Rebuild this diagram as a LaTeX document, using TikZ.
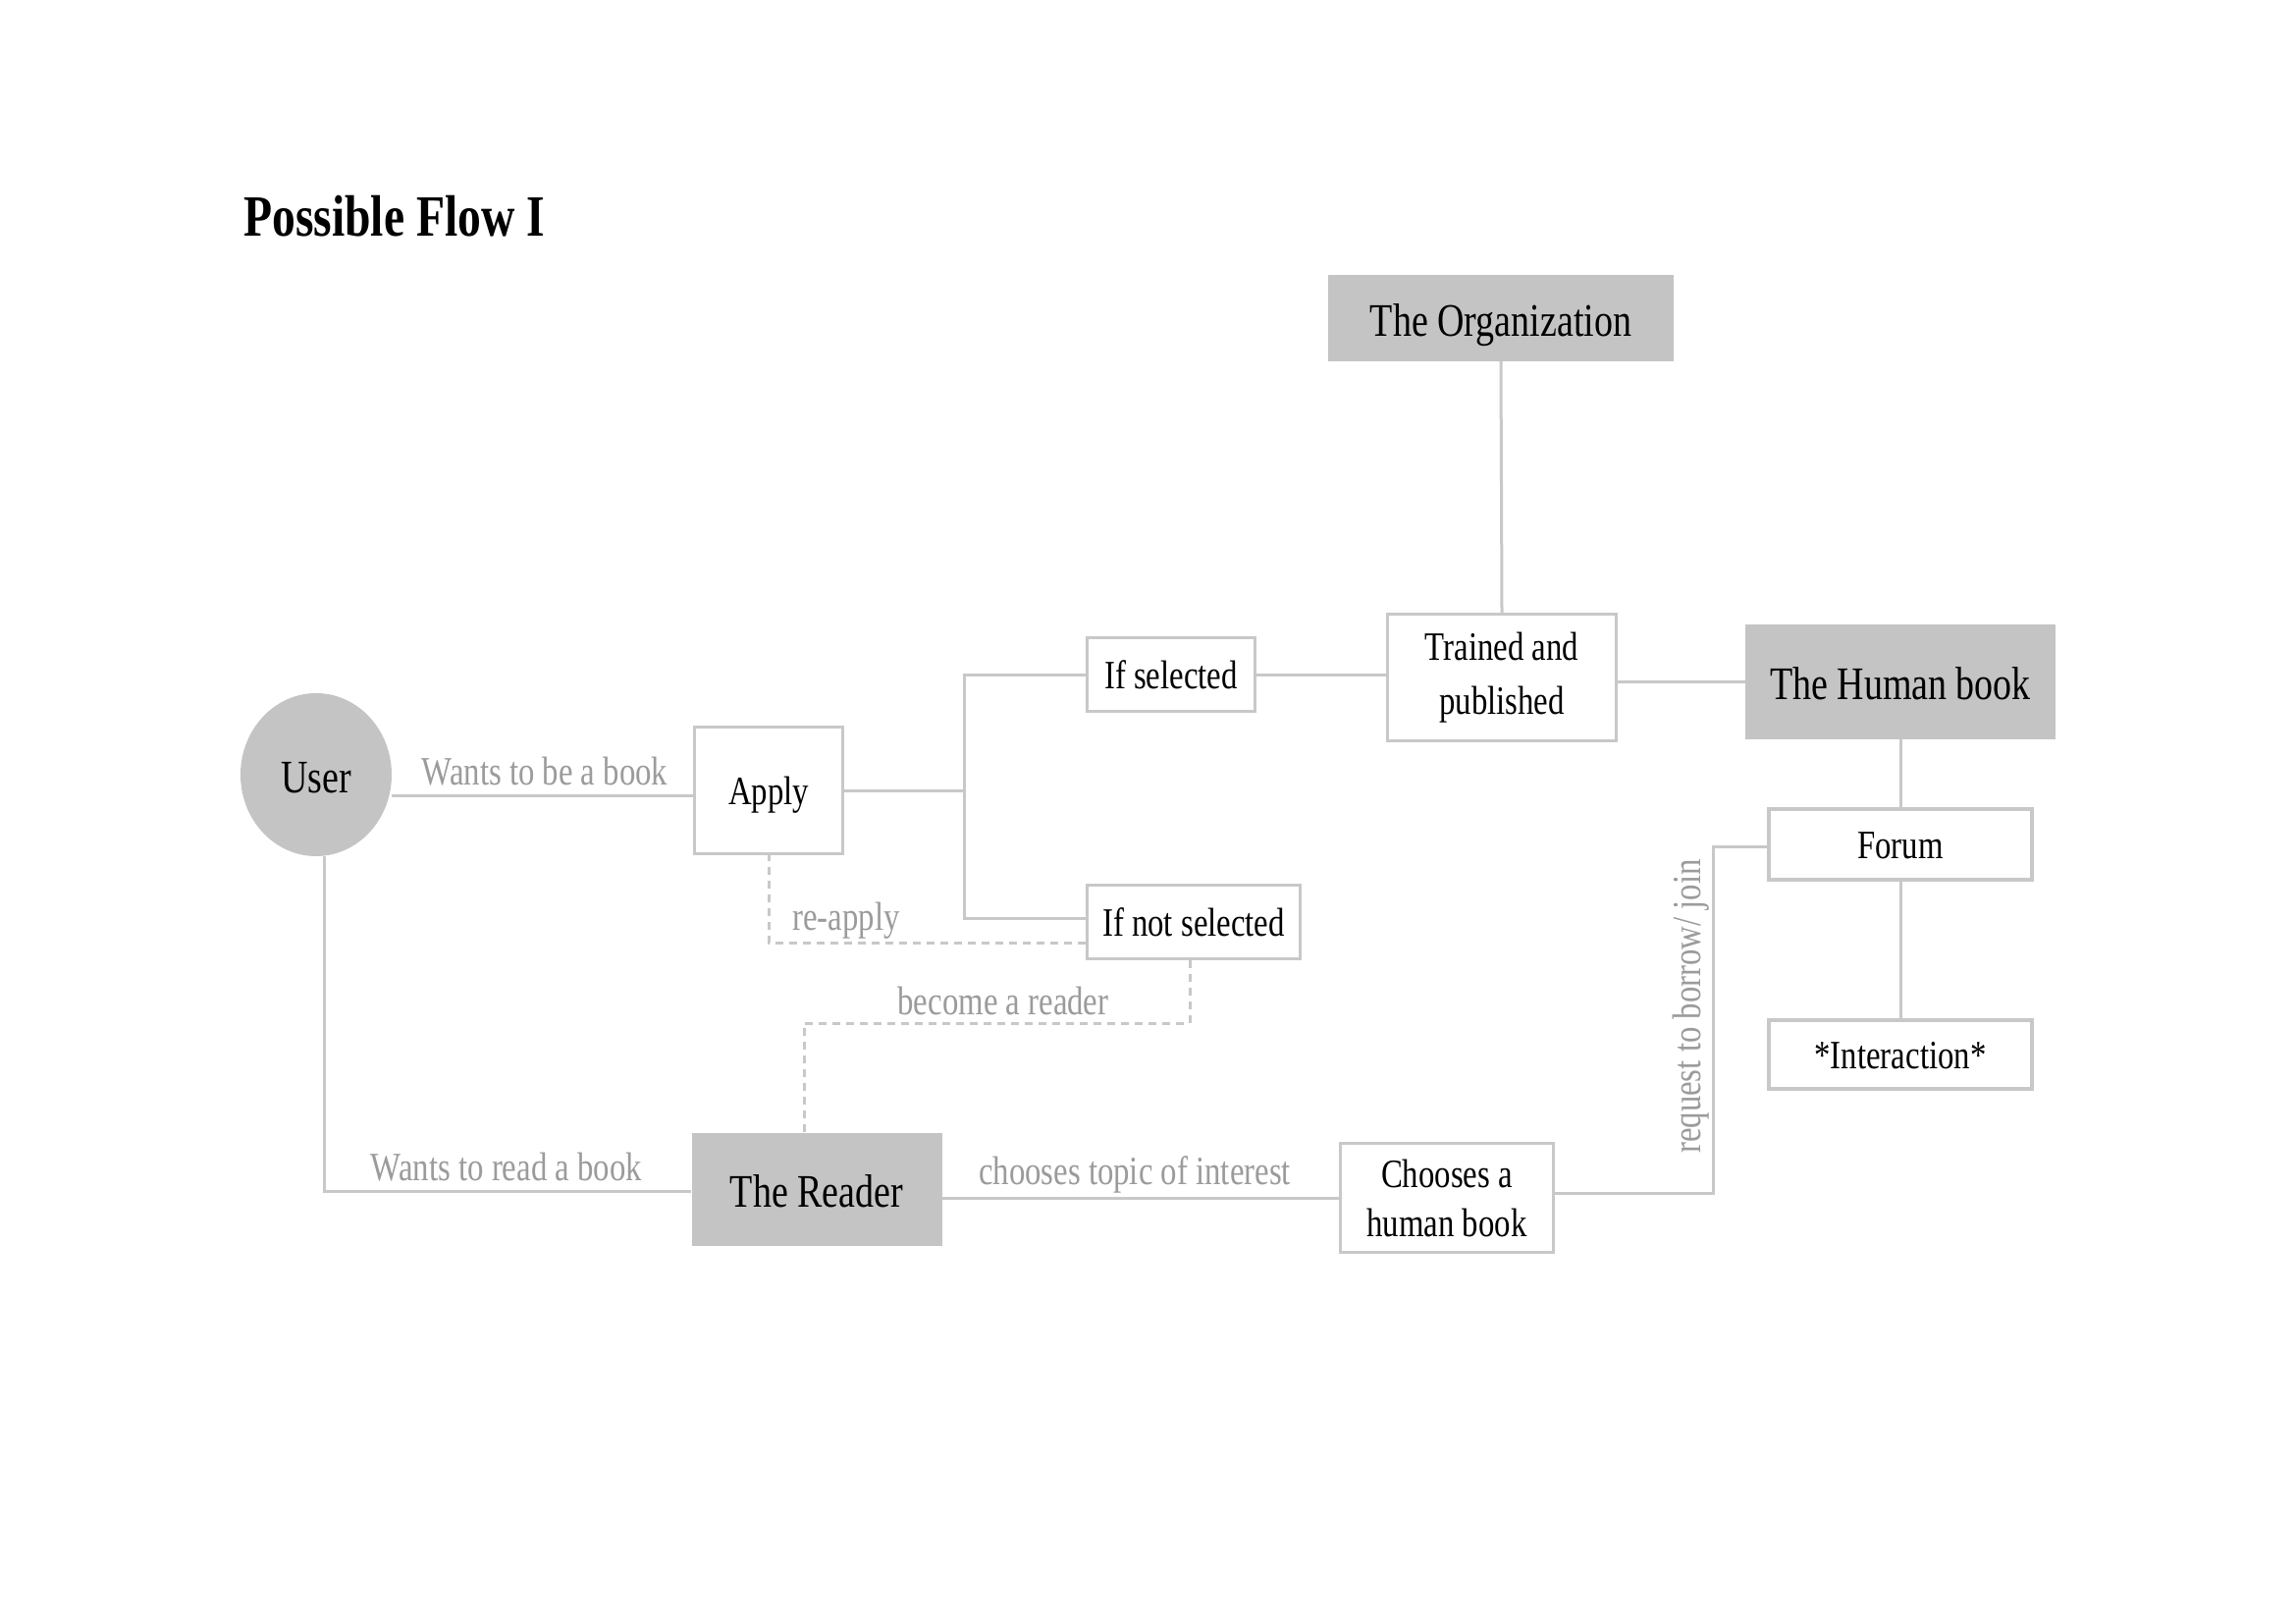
\documentclass[tikz,border=0pt]{standalone}
\usepackage{fontspec}
\setmainfont{Liberation Serif}[FakeStretch=0.8]
\usetikzlibrary{shapes.geometric}
\definecolor{boxC}{HTML}{C4C4C4}
\definecolor{lineC}{HTML}{C8C8C8}
\definecolor{lblC}{HTML}{9B9B9B}
\newcommand\regf{\fontsize{41}{55}\selectfont}
\newcommand\bigf{\fontsize{47.5}{56}\selectfont}
\newcommand\titlef{\fontsize{59.5}{70}\selectfont\bfseries}
\tikzset{
  wbox/.style={draw=lineC, line width=3.5pt, fill=white, inner sep=0pt, align=center, font=\regf},
  oneline/.style={text height=39pt, text depth=10pt},
  gbox/.style={fill=boxC, inner sep=0pt, align=center, font=\bigf, text height=45pt, text depth=8pt},
  conn/.style={draw=lineC, line width=3pt},
  dconn/.style={conn, dash pattern=on 8pt off 6pt},
  lbl/.style={text=lblC, font=\regf, inner sep=0pt, anchor=base},
}
\begin{document}
\begin{tikzpicture}[x=1pt, y=-1pt]
\useasboundingbox[fill=white] (0,0) rectangle (2339,1653);

\node[anchor=base west, inner sep=0pt, font=\titlef] (title) at (248,241) {Possible Flow I};

% nodes
\node[ellipse, fill=boxC, minimum width=154pt, minimum height=166pt, inner sep=0pt, font=\bigf, text height=45pt, text depth=8pt] (User) at (322,789) {User};
\node[wbox, oneline, minimum width=151pt, minimum height=129pt] (Apply) at (783,805) {Apply};
\node[wbox, oneline, minimum width=171pt, minimum height=75pt] (Sel) at (1193,687) {If selected};
\node[wbox, oneline, minimum width=217pt, minimum height=75pt] (NotSel) at (1216,939) {If not selected};
\node[wbox, minimum width=233pt, minimum height=129pt] (Trained) at (1530,690) {Trained and\\published};
\node[gbox, minimum width=352pt, minimum height=87pt] (Org) at (1529,324) {The Organization};
\node[gbox, minimum width=316pt, minimum height=117pt] (HB) at (1936,694) {The Human book};
\node[wbox, oneline, minimum width=268pt, minimum height=72pt] (Forum) at (1936,860) {Forum};
\node[wbox, oneline, minimum width=268pt, minimum height=70pt] (Inter) at (1936,1074) {*Interaction*};
\node[gbox, minimum width=255pt, minimum height=115pt] (Reader) at (832,1211) {The Reader};
\node[wbox, minimum width=217pt, minimum height=111pt, font=\fontsize{41}{50}\selectfont] (Chooses) at (1474,1220) {Chooses a\\human book};

% connectors
\draw[conn] (User.east |- 0,810) -- (Apply.west |- 0,810);
\draw[conn] (Apply.east) -- ++(122,0) |- (Sel.west);
\draw[conn] (Apply.east) -- ++(122,0) |- ([yshift=4pt]NotSel.west);
\draw[conn] (Sel.east) -- (Trained.west |- Sel.east);
\draw[conn] (Org.south) -- (Trained.north);
\draw[conn] (Trained.east |- HB.west) -- (HB.west);
\draw[conn] (HB.south) -- (Forum.north);
\draw[conn] (Forum.south) -- (Inter.north);
\draw[conn] ([xshift=8pt]User.south) |- ([yshift=-2pt]Reader.west);
\draw[conn] (Reader.east |- Chooses.west) -- (Chooses.west);
\draw[conn] ([yshift=5pt]Chooses.east) -- ++(161,0) |- ([yshift=-2pt]Forum.west);
\draw[dconn] ([yshift=2pt]Apply.south) |- ([yshift=-21pt]NotSel.west);
\draw[dconn] ([xshift=-4pt]NotSel.south) -- ++(0,64) -| ([xshift=-13pt]Reader.north);

% labels
\node[lbl] (l1) at (555,799) {Wants to be a book};
\node[lbl] (l2) at (862,947) {re-apply};
\node[lbl] (l3) at (1022,1033) {become a reader};
\node[lbl] (l4) at (516,1202) {Wants to read a book};
\node[lbl] (l5) at (1156,1206) {chooses topic of interest};
\node[lbl, rotate=90] (l6) at (1732,1025) {request to borrow/ join};
\end{tikzpicture}
\end{document}
